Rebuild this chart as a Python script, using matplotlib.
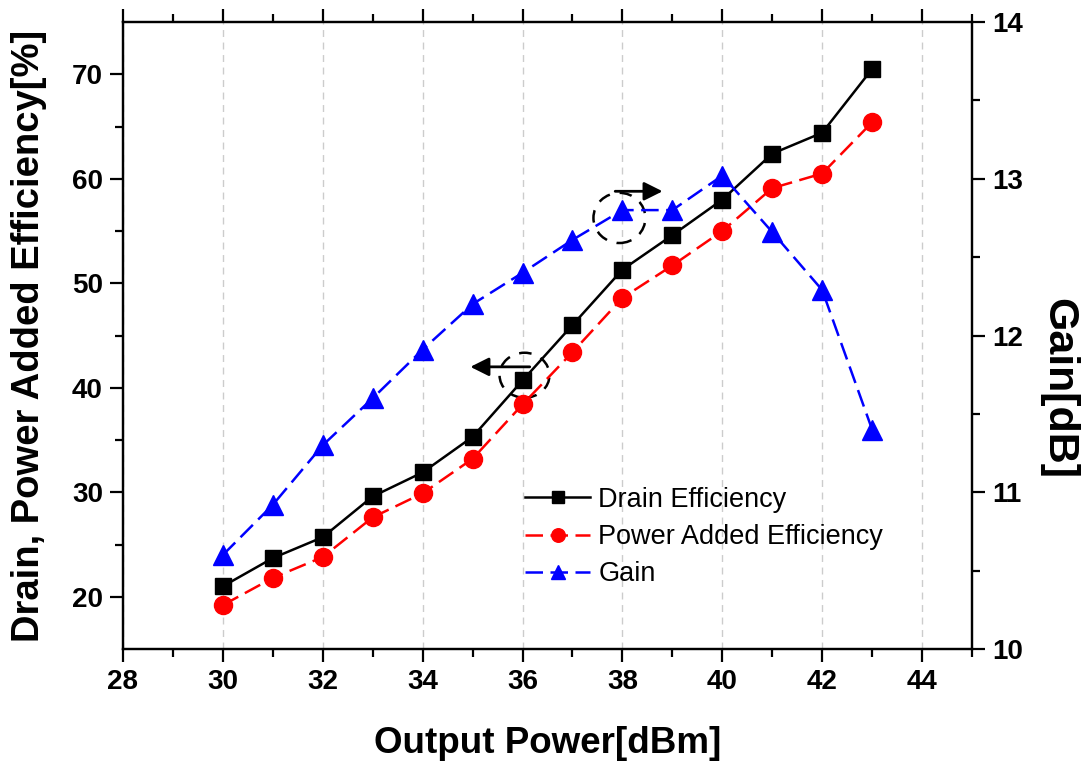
import numpy as np
import matplotlib
matplotlib.use("Agg")
from matplotlib import pyplot as plt
from matplotlib.patches import Ellipse

# data
pout = [30, 31, 32, 33, 34, 35, 36, 37, 38, 39, 40, 41, 42, 43]
drain_eff = [21.0, 23.7, 25.7, 29.6, 31.9, 35.3, 40.7, 46.0, 51.3, 54.6, 58.0, 62.4, 64.4, 70.5]
pae = [19.2, 21.8, 23.8, 27.6, 29.9, 33.2, 38.4, 43.4, 48.6, 51.7, 55.0, 59.1, 60.5, 65.4]
gain = [10.6, 10.92, 11.3, 11.6, 11.91, 12.2, 12.4, 12.61, 12.8, 12.8, 13.02, 12.66, 12.29, 11.4]

plt.rcParams['font.family'] = ['Liberation Sans', 'DejaVu Sans']

fig = plt.figure(figsize=(10.85, 7.65), dpi=100)
ax = fig.add_axes([123/1085, 1-649/765, (972-123)/1085, (649-22)/765])
ax2 = ax.twinx()

l1, = ax.plot(pout, drain_eff, color='black', lw=1.8, marker='s', ms=11.5, label='Drain Efficiency')
l2, = ax.plot(pout, pae, color='red', lw=1.8, ls=(0, (7, 3)), marker='o', ms=13,
              label='Power Added Efficiency')
l3, = ax2.plot(pout, gain, color='blue', lw=1.8, ls=(0, (7, 3)), marker='^', ms=14, label='Gain')

ax.set_xlim(28, 45)
ax.set_ylim(15, 75)
ax2.set_ylim(10, 14)
ax.set_xticks(np.arange(28, 45, 2))
ax.set_xticks(np.arange(29, 46, 2), minor=True)
ax.set_yticks(np.arange(20, 71, 10))
ax.set_yticks(np.arange(25, 75, 10), minor=True)
ax2.set_yticks(np.arange(10, 14.1, 1))
ax2.set_yticks(np.arange(10.5, 14, 1), minor=True)

ax.grid(axis='x', which='major', color='#cccccc', ls=(0, (5, 4)), lw=1)

for a in (ax, ax2):
    for s in a.spines.values():
        s.set_linewidth(1.6)
    a.tick_params(which='both', direction='out', width=1.6)
    a.tick_params(which='major', length=9.5, labelsize=20, pad=5)
    a.tick_params(which='minor', length=5.5)
ax.tick_params(which='both', top=True)
for lab in ax.get_xticklabels() + ax.get_yticklabels() + ax2.get_yticklabels():
    lab.set_fontweight('bold')

ax.set_xlabel('Output Power[dBm]', fontsize=26.5, fontweight='bold', va='top')
ax.xaxis.set_label_coords(0.5, -0.123)
ax.set_ylabel('Drain, Power Added Efficiency[%]', fontsize=27.5, fontweight='bold')
ax.yaxis.set_label_coords(-0.0895, 0.5)
ax2.set_ylabel('Gain[dB]', fontsize=31, fontweight='bold', rotation=270, va='bottom')
ax2.yaxis.set_label_coords(1.078, 0.415)

# annotation ellipses and arrows
ax.add_patch(Ellipse((36.04, 41.2), 1.0, 4.3, fill=False, ls=(0, (5, 4)), lw=1.8, color='black'))
ax.annotate('', xy=(34.9, 42.0), xytext=(36.2, 42.0),
            arrowprops=dict(arrowstyle='-|>', color='black', lw=2, mutation_scale=28))
ax2.add_patch(Ellipse((37.94, 12.75), 1.04, 0.32, fill=False, ls=(0, (5, 4)), lw=1.8, color='black'))
ax2.annotate('', xy=(38.86, 12.92), xytext=(37.8, 12.92),
             arrowprops=dict(arrowstyle='-|>', color='black', lw=2, mutation_scale=28))

ax.legend(handles=[l1, l2, l3], loc='upper left', bbox_to_anchor=(0.4735, 0.259),
          frameon=False, fontsize=19.5, handlelength=2.4, handletextpad=0.3,
          labelspacing=0.42, borderaxespad=0, borderpad=0, markerscale=0.75)

fig.savefig('out.png', dpi=100)
